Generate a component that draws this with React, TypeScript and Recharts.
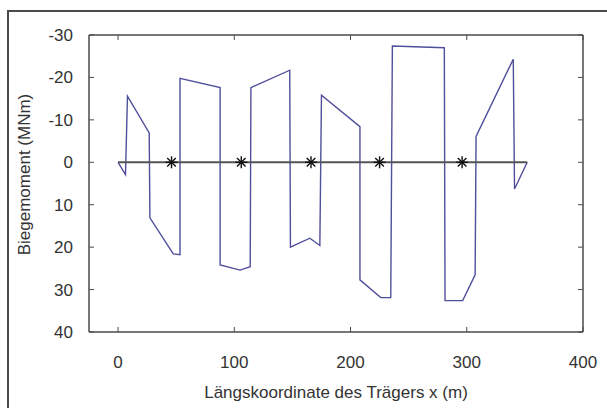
import React from 'react';
import { ComposedChart, Line, Scatter, XAxis, YAxis } from 'recharts';

// Biegemomentenlinie (x in m, M in MNm), Stützstellen
const momentX = [0, 6.4, 8.1, 26.8, 27.4, 47.5, 53.3, 53.3, 87.8, 87.8, 105, 113.7, 114.3, 147.7, 148.3, 165, 173.6, 175, 208.1, 208.1, 226, 234.6, 236, 280.7, 281.3, 296.5, 307.2, 308, 340, 341.1, 352];
const momentY = [0, 2.9, -15.6, -6.9, 13.1, 21.6, 21.8, -19.8, -17.6, 24.2, 25.4, 24.6, -17.6, -21.7, 20.0, 17.9, 19.6, -15.8, -8.4, 27.7, 31.9, 31.9, -27.4, -27.0, 32.6, 32.6, 26.5, -6.1, -24.3, 6.3, 0];

// Nulllinie (Trägerachse) und Stützen
const axisX = [0, 352];
const supportX = [46, 106, 166, 225, 296];

const xTicks = [0, 100, 200, 300, 400];
const yTicks = [-30, -20, -10, 0, 10, 20, 30, 40];

const momentData = momentX.map((x, i) => ({ x, m: momentY[i] }));
const axisData = axisX.map(x => ({ x, m: 0 }));
const supportData = supportX.map(x => ({ x, m: 0 }));

const FONT = '"Liberation Sans", Arial, sans-serif';
const TEXT = '#333333';
const FRAME = '#4a4a4a';

const Asterisk = ({ cx, cy }: any) => {
    const r = 6;
    const d = r * 0.72;
    return (
        <g stroke="#111" strokeWidth={1.4}>
            <line x1={cx - r} y1={cy} x2={cx + r} y2={cy} />
            <line x1={cx} y1={cy - r} x2={cx} y2={cy + r} />
            <line x1={cx - d} y1={cy - d} x2={cx + d} y2={cy + d} />
            <line x1={cx - d} y1={cy + d} x2={cx + d} y2={cy - d} />
        </g>
    );
};

const YLabel = ({ viewBox }: any) => {
    const x = 30;
    const y = viewBox.y + viewBox.height / 2 - 9;
    return (
        <text x={x} y={y} transform={`rotate(-90 ${x} ${y})`} textAnchor="middle"
            fill={TEXT} fontSize={17} fontFamily={FONT}>
            Biegemoment (MNm)
        </text>
    );
};

const XLabel = ({ viewBox }: any) => (
    <text x={viewBox.x + viewBox.width / 2} y={398} textAnchor="middle" fill={TEXT} fontSize={17} fontFamily={FONT}>
        Längskoordinate des Trägers x (m)
    </text>
);

const App: React.FC = () => {
    const tickStyle = { fill: TEXT, fontSize: 17, fontFamily: FONT };
    return (
        <div style={{ position: 'fixed', left: 0, top: 0, width: 607, height: 408, background: '#fff' }}>
            <div style={{ position: 'absolute', left: 7, top: 10, right: 0, bottom: 0, borderLeft: `2px solid ${FRAME}`, borderTop: `2px solid ${FRAME}` }} />
            <ComposedChart width={607} height={408} margin={{ top: 34, right: 23, bottom: 0, left: 0 }}
                style={{ position: 'absolute', left: 0, top: 0 }}>
                <XAxis xAxisId="bottom" type="number" dataKey="x" domain={[-25, 400]} ticks={xTicks} allowDataOverflow
                    height={76} tickSize={-5} tickMargin={29} tick={tickStyle}
                    axisLine={{ stroke: FRAME, strokeWidth: 1.5 }} tickLine={{ stroke: FRAME }}
                    label={<XLabel />} />
                <XAxis xAxisId="top" orientation="top" type="number" dataKey="x" domain={[-25, 400]} ticks={xTicks} allowDataOverflow
                    height={1} tickSize={-5} tickFormatter={() => ''}
                    axisLine={{ stroke: FRAME, strokeWidth: 1.5 }} tickLine={{ stroke: FRAME }} />
                <YAxis yAxisId="left" type="number" dataKey="m" domain={[-30, 40]} ticks={yTicks} reversed allowDataOverflow
                    width={89} tickSize={-5} tickMargin={21} tick={tickStyle}
                    axisLine={{ stroke: FRAME, strokeWidth: 1.5 }} tickLine={{ stroke: FRAME }}
                    label={<YLabel />} />
                <YAxis yAxisId="right" orientation="right" type="number" dataKey="m" domain={[-30, 40]} ticks={yTicks} reversed allowDataOverflow
                    width={1} tickSize={-5} tickFormatter={() => ''}
                    axisLine={{ stroke: FRAME, strokeWidth: 1.5 }} tickLine={{ stroke: FRAME }} />

                <Line xAxisId="bottom" yAxisId="left" data={momentData} dataKey="m" type="linear"
                    stroke="#4f4f9c" strokeWidth={1.4} dot={false} isAnimationActive={false} />
                <Line xAxisId="bottom" yAxisId="left" data={axisData} dataKey="m" type="linear"
                    stroke="#555555" strokeWidth={2} dot={false} isAnimationActive={false} />
                <Scatter xAxisId="bottom" yAxisId="left" data={supportData} dataKey="m"
                    shape={<Asterisk />} isAnimationActive={false} />
                {/* unsichtbare Serie, damit oberes und rechtes Rahmenachsenpaar gezeichnet wird */}
                <Line xAxisId="top" yAxisId="right" data={axisData} dataKey="m" stroke="none" dot={false}
                    legendType="none" isAnimationActive={false} />
            </ComposedChart>
        </div>
    );
};

export default App;
